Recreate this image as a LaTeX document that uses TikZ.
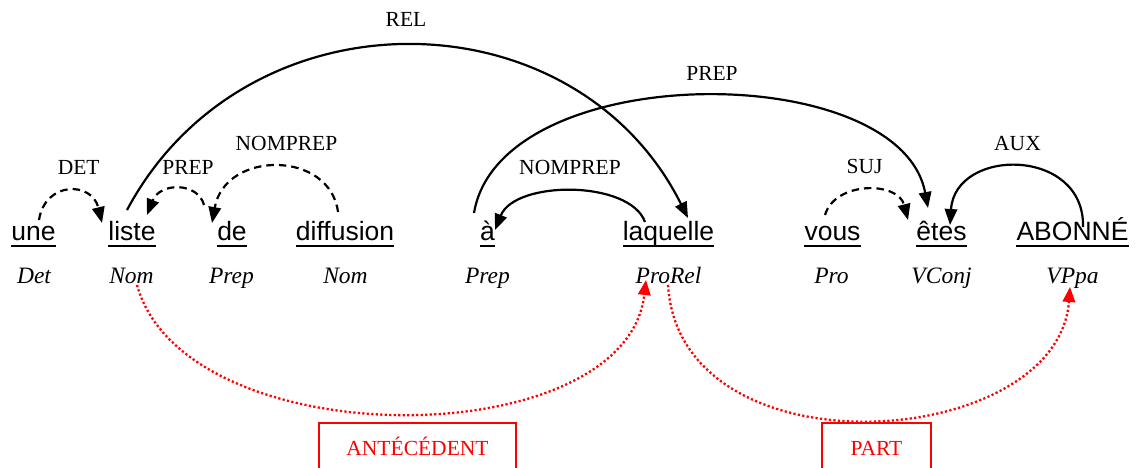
\documentclass[tikz,border=0pt]{standalone}
\usepackage{fontspec}
\setmainfont{Liberation Serif}
\newfontfamily\wordfont{Liberation Sans}
\usetikzlibrary{arrows.meta}

\begin{document}
\begin{tikzpicture}[x=1pt,y=-1pt,
  word/.style={font=\wordfont\fontsize{26.5}{30}\selectfont, inner sep=0pt, anchor=base},
  tag/.style={font=\fontsize{23.5}{27}\selectfont\itshape, inner sep=0pt, anchor=base},
  lab/.style={font=\fontsize{21.5}{25}\selectfont, inner sep=0pt, anchor=base},
  uline/.style={line width=2.1pt},
  dep/.style={line width=2.2pt, -{Triangle[length=16pt,width=12.5pt]}},
  depdash/.style={dep, dash pattern=on 7.5pt off 5pt},
  anaph/.style={red, line width=2.3pt, dash pattern=on 2.2pt off 2.3pt,
                -{Triangle[length=15pt,width=12.5pt]}},
  rolebox/.style={draw=red, line width=1.5pt, text=red,
                  font=\fontsize{21.5}{25}\selectfont, text height=15pt,
                  text depth=0pt, minimum height=50pt, anchor=north},
]
\clip (0,0) rectangle (1142,467);

% words of the sentence
\node[word] (une)       at (33.5,240)  {une};
\node[word] (liste)     at (132,240)   {liste};
\node[word] (de)        at (232,240)   {de};
\node[word] (diffusion) at (345,240)   {diffusion};
\node[word] (a)         at (487.5,240) {à};
\node[word] (laquelle)  at (668.5,240) {laquelle};
\node[word] (vous)      at (832.5,240) {vous};
\node[word] (etes)      at (941.5,240) {êtes};
\node[word] (abonne)    at (1072.5,240){ABONNÉ};

\foreach \w in {une,liste,de,diffusion,a,laquelle,vous,etes,abonne}
  \draw[uline] ([yshift=-5.7pt]\w.base west) -- ([yshift=-5.7pt]\w.base east);

% part-of-speech tags
\node[tag] (t-une)       at (34,283)     {Det};
\node[tag] (t-liste)     at (131.5,283)  {Nom};
\node[tag] (t-de)        at (231.5,283)  {Prep};
\node[tag] (t-diffusion) at (345.5,283)  {Nom};
\node[tag] (t-a)         at (487.5,283)  {Prep};
\node[tag] (t-laquelle)  at (668.5,283)  {ProRel};
\node[tag] (t-vous)      at (831.5,283)  {Pro};
\node[tag] (t-etes)      at (941.5,283)  {VConj};
\node[tag] (t-abonne)    at (1072.5,283) {VPpa};

% dependency labels
\node[lab] (l-det)   at (78.7,174)   {DET};
\node[lab] (l-prep1) at (188,174)    {PREP};
\node[lab] (l-nomp1) at (286.5,150.7){NOMPREP};
\node[lab] (l-rel)   at (406,26.7)   {REL};
\node[lab] (l-prep2) at (712,80)     {PREP};
\node[lab] (l-nomp2) at (570,174)    {NOMPREP};
\node[lab] (l-suj)   at (864.5,173.3){SUJ};
\node[lab] (l-aux)   at (1017.5,150.7){AUX};

% dependency arcs
\draw[depdash] ([shift={(5.5,-20)}]une.base)
  .. controls +(6,-39) and +(-10,-42) .. ([shift={(-30,-17)}]liste.base);
\draw[depdash] ([shift={(-28,-35)}]de.base)
  .. controls +(-6,-23) and +(13,-33) .. ([shift={(15,-25)}]liste.base);
\draw[depdash] ([shift={(-7,-28)}]diffusion.base)
  .. controls +(-8,-62) and +(13,-73) .. ([shift={(-20,-17)}]de.base);
\draw[dep] ([shift={(-5,-30)}]liste.base)
  .. controls +(119,-223) and +(-113,-226) .. ([shift={(19.5,-22)}]laquelle.base);
\draw[dep] ([shift={(-13.5,-27)}]a.base)
  .. controls +(26,-155) and +(-28,-150) .. ([shift={(-13.5,-32)}]etes.base);
\draw[dep] ([shift={(-23.5,-18)}]laquelle.base)
  .. controls +(-15,-42) and +(20,-50) .. ([shift={(7.5,-10)}]a.base);
\draw[depdash] ([shift={(-7.5,-25)}]vous.base)
  .. controls +(10,-34) and +(-10,-39) .. ([shift={(-33.5,-20)}]etes.base);
\draw[dep] ([shift={(10.5,-13)}]abonne.base)
  .. controls +(2,-80) and +(5,-78) .. ([shift={(8.5,-15)}]etes.base);

% anaphoric links and their roles
\draw[anaph] ([shift={(5.5,2)}]t-liste.base)
  .. controls +(48,173) and +(-20,176) .. ([shift={(-22.5,-3)}]t-laquelle.base);
\draw[anaph] ([shift={(-0.5,2)}]t-laquelle.base)
  .. controls +(12,193) and +(-12,164) .. ([shift={(-2.5,4)}]t-abonne.base);

\node[rolebox, minimum width=197pt] (antecedent) at (417.5,422) {ANTÉCÉDENT};
\node[rolebox, minimum width=109pt] (part)       at (876.5,422) {PART};
\end{tikzpicture}
\end{document}
